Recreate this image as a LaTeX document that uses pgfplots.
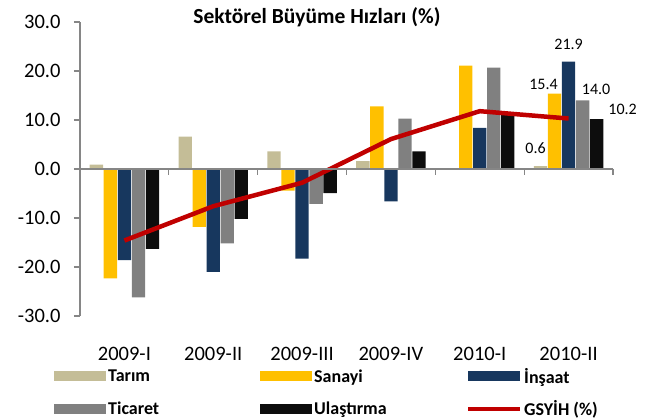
\documentclass[border=0pt]{standalone}
\usepackage{fontspec}
\setmainfont{Carlito}
\usepackage{pgfplots}
\pgfplotsset{compat=1.18}

\definecolor{tarim}{HTML}{C4BD97}
\definecolor{sanayi}{HTML}{FFC000}
\definecolor{insaat}{HTML}{17375E}
\definecolor{ticaret}{HTML}{808080}
\definecolor{ulas}{HTML}{0D0D0D}
\definecolor{gsyih}{HTML}{C00000}
\definecolor{axgray}{HTML}{868686}

\newcommand{\lbl}{\fontsize{16}{18}\selectfont}

\begin{document}
\begin{tikzpicture}
\begin{axis}[
    at={(0pt,0pt)}, anchor=south west,
    scale only axis,
    width=533pt, height=294pt,
    clip=false,
    xmin=-0.5, xmax=5.5,
    ymin=-30, ymax=30,
    axis y line*=left,
    axis x line*=bottom,
    x axis line style={draw=none},
    y axis line style={draw=axgray, line width=1.2pt},
    ytick={-30,-20,...,30},
    xtick={0,...,5},
    xticklabels={2009-I,2009-II,2009-III,2009-IV,2010-I,2010-II},
    tick align=outside,
    major tick length=6pt,
    x tick style={draw=none},
    y tick style={draw=axgray, line width=1.2pt},
    tick label style={font=\fontsize{20.5}{24}\selectfont},
    yticklabel style={xshift=-10pt, /pgf/number format/fixed, /pgf/number format/fixed zerofill,
        /pgf/number format/precision=1, /pgf/number format/assume math mode=true},
    xticklabel style={yshift=-22pt},
    title={\bfseries Sektörel Büyüme Hızları (\%)},
    title style={font=\fontsize{21.5}{24}\selectfont, at={(axis description cs:0.437,1)}, anchor=base,
        xshift=4pt, yshift=-8pt},
    ybar=0.7pt,
    bar width=0.15,
    point meta=explicit symbolic,
    nodes near coords,
    every node near coord/.append style={font=\lbl, anchor=center},
    legend columns=3,
    legend cell align=left,
    legend style={draw=none, fill=none, at={(axis description cs:0,0)}, anchor=north west,
        xshift=-26pt, yshift=-50pt, inner sep=0pt,
        font=\fontsize{18}{20}\selectfont\bfseries,
        /tikz/every odd row/.append style={row sep=12pt}},
    area legend,
    legend image code/.code={\fill[#1] (0pt,-5pt) rectangle (52pt,5pt);},
]
\addplot[fill=tarim, draw=none, nodes near coords style={xshift=-5pt, yshift=18pt}] coordinates {
    (0,0.9) [] (1,6.6) [] (2,3.6) [] (3,1.6) [] (4,0.0) [] (5,0.6) [0.6]};
\addlegendentry{\makebox[150pt][l]{Tarım}}
\addplot[fill=sanayi, draw=none, nodes near coords style={xshift=-11pt, yshift=9pt}] coordinates {
    (0,-22.3) [] (1,-11.8) [] (2,-4.4) [] (3,12.8) [] (4,21.1) [] (5,15.4) [15.4]};
\addlegendentry{\makebox[150pt][l]{Sanayi}}
\addplot[fill=insaat, draw=none, nodes near coords style={yshift=17pt}] coordinates {
    (0,-18.6) [] (1,-21.0) [] (2,-18.3) [] (3,-6.6) [] (4,8.4) [] (5,21.9) [21.9]};
\addlegendentry{\makebox[150pt][l]{İnşaat}}
\addplot[fill=ticaret, draw=none, nodes near coords style={xshift=13.5pt, yshift=11pt}] coordinates {
    (0,-26.2) [] (1,-15.2) [] (2,-7.1) [] (3,10.3) [] (4,20.7) [] (5,14.0) [14.0]};
\addlegendentry{\makebox[150pt][l]{Ticaret}}
\addplot[fill=ulas, draw=none, nodes near coords style={xshift=26pt, yshift=10pt}] coordinates {
    (0,-16.3) [] (1,-10.2) [] (2,-4.9) [] (3,3.6) [] (4,11.0) [] (5,10.2) [10.2]};
\addlegendentry{\makebox[150pt][l]{Ulaştırma}}
\addplot[sharp plot, draw=gsyih, line width=4.5pt, line join=round, no marks,
    nodes near coords=\empty,
    legend image code/.code={\draw[gsyih, line width=4pt] (0pt,0pt) -- (52pt,0pt);}] coordinates {
    (0,-14.6) [] (1,-7.6) [] (2,-2.8) [] (3,6.1) [] (4,11.8) [] (5,10.3) []};
\addlegendentry{\makebox[150pt][l]{GSYİH (\%)}}

\draw[axgray, line width=1.2pt] (axis cs:-0.5,0) -- (axis cs:5.5,0);
\pgfplotsinvokeforeach{0.5,1.5,2.5,3.5,4.5,5.5}{
    \draw[axgray, line width=1.2pt] (axis cs:#1,0) -- ++(0pt,-6pt);
}
\end{axis}
\pgfresetboundingbox
\path (-80pt,-103pt) rectangle (565pt,316pt);
\end{tikzpicture}
\end{document}
